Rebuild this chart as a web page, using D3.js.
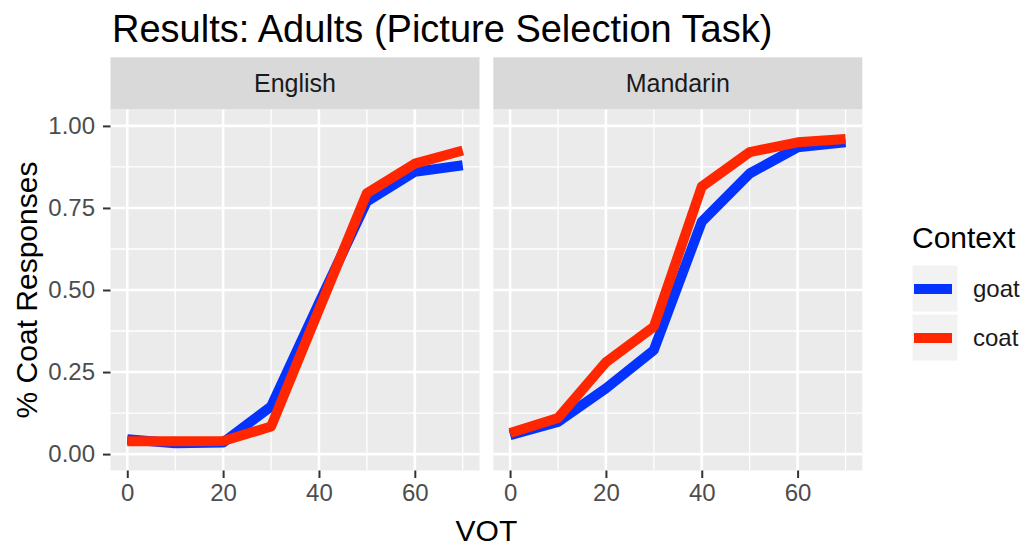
<!DOCTYPE html>
<html>
<head>
<meta charset="utf-8">
<script src="https://cdn.jsdelivr.net/npm/d3@7"></script>
<style>
  body { margin: 0; background: #fff; }
  text { font-family: "Liberation Sans", Arial, sans-serif; }
</style>
</head>
<body>
<div id="chart"></div>
<script>
// data
var vot = [0, 10, 20, 30, 40, 50, 60, 70];
var englishGoat = [0.045, 0.033, 0.035, 0.145, 0.46, 0.77, 0.86, 0.88];
var englishCoat = [0.039, 0.039, 0.04, 0.084, 0.44, 0.795, 0.885, 0.925];
var mandarinGoat = [0.058, 0.098, 0.20, 0.317, 0.708, 0.855, 0.935, 0.95];
var mandarinCoat = [0.064, 0.11, 0.28, 0.388, 0.815, 0.92, 0.95, 0.96];
var panels = ["English", "Mandarin"];
var contexts = ["goat", "coat"];
var yTicks = [0, 0.25, 0.5, 0.75, 1];
var yMinor = [0.125, 0.375, 0.625, 0.875];
var xTicks = [0, 20, 40, 60];
var xMinor = [10, 30, 50, 70];

var colors = {goat: "#0433ff", coat: "#ff2600"};

var W = 1028, H = 548;
var svg = d3.select("#chart").append("svg")
  .attr("width", W).attr("height", H);

// panel geometry
var panelLeft = [110.5, 493.3], panelW = 369,
    panelTop = 109.5, panelBottom = 470.5,
    stripTop = 57.3;

var y = d3.scaleLinear().domain([-0.05, 1.05]).range([panelBottom, panelTop]);

var series = {
  English: {goat: englishGoat, coat: englishCoat},
  Mandarin: {goat: mandarinGoat, coat: mandarinCoat}
};

// title
svg.append("text")
  .attr("x", 112).attr("y", 42)
  .attr("font-size", "38px")
  .attr("fill", "#000")
  .text("Results: Adults (Picture Selection Task)");

panels.forEach(function(p, pi) {
  var x = d3.scaleLinear().domain([-3.5, 73.5])
    .range([panelLeft[pi], panelLeft[pi] + panelW]);
  var g = svg.append("g");

  // strip
  g.append("rect")
    .attr("x", panelLeft[pi]).attr("y", stripTop)
    .attr("width", panelW).attr("height", panelTop - stripTop)
    .attr("fill", "#d9d9d9");
  g.append("text")
    .attr("x", panelLeft[pi] + panelW / 2).attr("y", (stripTop + panelTop) / 2)
    .attr("dy", "0.35em")
    .attr("text-anchor", "middle")
    .attr("font-size", "25px")
    .attr("fill", "#1a1a1a")
    .text(p);

  // background
  g.append("rect")
    .attr("x", panelLeft[pi]).attr("y", panelTop)
    .attr("width", panelW).attr("height", panelBottom - panelTop)
    .attr("fill", "#ebebeb");

  // minor grid
  g.selectAll(".ymin").data(yMinor).enter().append("line")
    .attr("x1", panelLeft[pi]).attr("x2", panelLeft[pi] + panelW)
    .attr("y1", function(d) { return y(d); }).attr("y2", function(d) { return y(d); })
    .attr("stroke", "#fff").attr("stroke-width", 1.3);
  g.selectAll(".xmin").data(xMinor).enter().append("line")
    .attr("y1", panelTop).attr("y2", panelBottom)
    .attr("x1", function(d) { return x(d); }).attr("x2", function(d) { return x(d); })
    .attr("stroke", "#fff").attr("stroke-width", 1.3);
  // major grid
  g.selectAll(".ymaj").data(yTicks).enter().append("line")
    .attr("x1", panelLeft[pi]).attr("x2", panelLeft[pi] + panelW)
    .attr("y1", function(d) { return y(d); }).attr("y2", function(d) { return y(d); })
    .attr("stroke", "#fff").attr("stroke-width", 2.6);
  g.selectAll(".xmaj").data(xTicks).enter().append("line")
    .attr("y1", panelTop).attr("y2", panelBottom)
    .attr("x1", function(d) { return x(d); }).attr("x2", function(d) { return x(d); })
    .attr("stroke", "#fff").attr("stroke-width", 2.6);

  // lines
  contexts.forEach(function(c) {
    var vals = series[p][c];
    var line = d3.line()
      .x(function(d, i) { return x(vot[i]); })
      .y(function(d) { return y(d); });
    g.append("path")
      .datum(vals)
      .attr("fill", "none")
      .attr("stroke", colors[c])
      .attr("stroke-width", 10)
      .attr("stroke-linejoin", "round")
      .attr("stroke-linecap", "butt")
      .attr("d", line);
  });

  // x axis
  var xAxis = svg.append("g")
    .attr("transform", "translate(0," + panelBottom + ")")
    .call(d3.axisBottom(x).tickValues(xTicks).tickSize(7.5).tickPadding(6)
      .tickFormat(d3.format("d")));
  xAxis.select(".domain").remove();
  xAxis.selectAll(".tick line").attr("stroke", "#333").attr("stroke-width", 2);
  xAxis.selectAll(".tick text")
    .attr("font-size", "24px").attr("fill", "#4d4d4d")
    .attr("font-family", "Liberation Sans, Arial, sans-serif");
});

// y axis (left panel only)
var yAxis = svg.append("g")
  .attr("transform", "translate(" + panelLeft[0] + ",0)")
  .call(d3.axisLeft(y).tickValues(yTicks).tickSize(7.5).tickPadding(8)
    .tickFormat(d3.format(".2f")));
yAxis.select(".domain").remove();
yAxis.selectAll(".tick line").attr("stroke", "#333").attr("stroke-width", 2);
yAxis.selectAll(".tick text")
  .attr("font-size", "24px").attr("fill", "#4d4d4d")
  .attr("font-family", "Liberation Sans, Arial, sans-serif");

// axis titles
svg.append("text")
  .attr("transform", "translate(37," + ((panelTop + panelBottom) / 2) + ") rotate(-90)")
  .attr("text-anchor", "middle")
  .attr("font-size", "30px")
  .attr("fill", "#000")
  .text("% Coat Responses");

svg.append("text")
  .attr("x", (panelLeft[0] + panelLeft[1] + panelW) / 2).attr("y", 541)
  .attr("text-anchor", "middle")
  .attr("font-size", "30px")
  .attr("fill", "#000")
  .text("VOT");

// legend
var legend = svg.append("g");
legend.append("text")
  .attr("x", 912).attr("y", 248)
  .attr("font-size", "30px")
  .attr("fill", "#000")
  .text("Context");

var keys = legend.selectAll(".key").data(contexts).enter().append("g")
  .attr("transform", function(d, i) { return "translate(912," + (265 + i * 49) + ")"; });
keys.append("rect")
  .attr("width", 46).attr("height", 47)
  .attr("fill", "#f2f2f2").attr("stroke", "#fff").attr("stroke-width", 1);
keys.append("line")
  .attr("x1", 2).attr("x2", 40).attr("y1", 24).attr("y2", 24)
  .attr("stroke", function(d) { return colors[d]; })
  .attr("stroke-width", 10);
keys.append("text")
  .attr("x", 61).attr("y", 24).attr("dy", "0.35em")
  .attr("font-size", "24px")
  .attr("fill", "#1a1a1a")
  .text(function(d) { return d; });
</script>
</body>
</html>
